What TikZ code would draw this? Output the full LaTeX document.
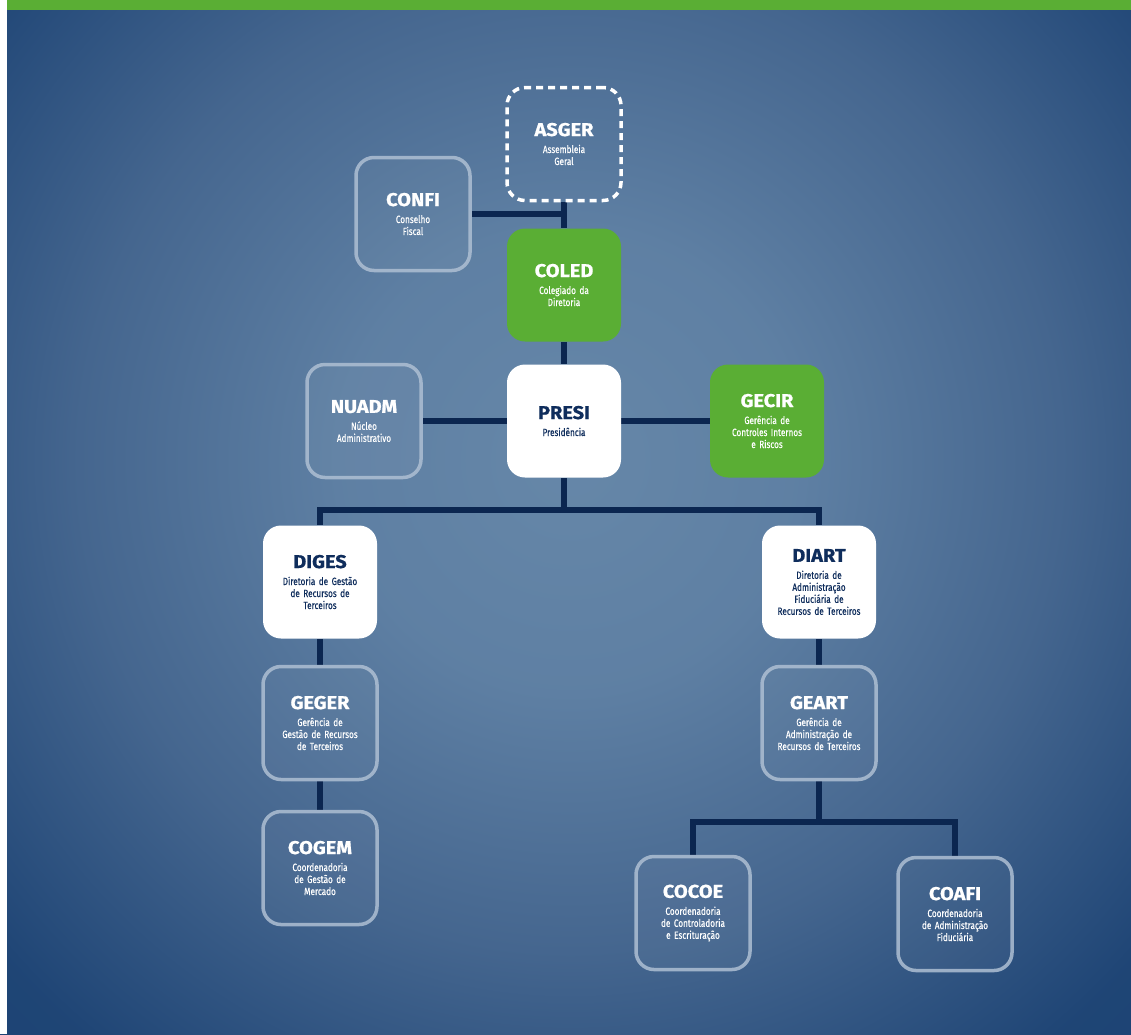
\documentclass[tikz,border=0pt]{standalone}
\usepackage{fontspec}
\setmainfont{Fira Sans}
\newfontfamily\ttlfont{Fira Sans}[FakeStretch=1.08,BoldFeatures={FakeBold=0.8}]
\newfontfamily\subfont{Fira Sans}[FakeStretch=0.78,FakeBold=0.4]
\definecolor{navy}{HTML}{0B2650}
\definecolor{navytext}{HTML}{0F2D5C}
\definecolor{orggreen}{HTML}{5AAE34}
\definecolor{lineblue}{HTML}{AEBFD3}
\pgfdeclareradialshading{bgshade}{\pgfpoint{0bp}{0bp}}{%
  rgb(0bp)=(0.40,0.53,0.66);
  rgb(7bp)=(0.37,0.50,0.64);
  rgb(15bp)=(0.27,0.40,0.56);
  rgb(23bp)=(0.12,0.27,0.46);
  rgb(34bp)=(0.10,0.25,0.45);
  rgb(50bp)=(0.10,0.25,0.45)}
\pgfdeclarelayer{back}
\pgfdeclarelayer{edges}
\pgfsetlayers{back,edges,main}
\newcommand\orgtext[2]{{\ttlfont\bfseries\fontsize{18.5}{21}\selectfont #1}\\[5pt]#2}
\tikzset{
  orgbox/.style={rounded corners=18pt, minimum width=114pt, minimum height=113pt,
    text width=112pt, align=center, inner sep=0pt,
    font=\subfont\fontsize{10.5}{12}\selectfont},
  outlinebox/.style={orgbox, draw=lineblue, line width=3.5pt, fill=white, fill opacity=0.04,
    text opacity=1, draw opacity=0.85, text=white},
  dashbox/.style={orgbox, draw=white, line width=3.5pt, dash pattern=on 7pt off 5pt, text=white},
  whitebox/.style={orgbox, fill=white, text=navytext},
  greenbox/.style={orgbox, fill=orggreen, text=white},
  conn/.style={draw=navy, line width=6.5pt, line join=miter}
}
\begin{document}
\begin{tikzpicture}[x=1pt,y=-1pt]
\useasboundingbox (0,0) rectangle (1131,1034);
\begin{pgfonlayer}{back}
  \begin{scope}
    \clip (0,0) rectangle (1131,1034);
    \shade[shading=bgshade] (570,460) circle (820pt);
  \end{scope}
  \fill[white] (0,0) rectangle (7,1034);
  \fill[orggreen] (7,0) rectangle (1131,10);
\end{pgfonlayer}

\node[dashbox]    (asger) at (564,144) {\orgtext{ASGER}{Assembleia\\Geral}};
\node[outlinebox] (confi) at (413,214) {\orgtext{CONFI}{Conselho\\Fiscal}};
\node[greenbox]   (coled) at (564,285) {\orgtext{COLED}{Colegiado da\\Diretoria}};
\node[outlinebox] (nuadm) at (364,421) {\orgtext{NUADM}{Núcleo\\Administrativo}};
\node[whitebox]   (presi) at (564,421) {\orgtext{PRESI}{Presidência}};
\node[greenbox]   (gecir) at (767,421) {\orgtext{GECIR}{Gerência de\\Controles Internos\\e Riscos}};
\node[whitebox]   (diges) at (320,582) {\orgtext{DIGES}{Diretoria de Gestão\\de Recursos de\\Terceiros}};
\node[whitebox]   (diart) at (819,582) {\orgtext{DIART}{Diretoria de\\Administração\\Fiduciária de\\Recursos de Terceiros}};
\node[outlinebox] (geger) at (320,723) {\orgtext{GEGER}{Gerência de\\Gestão de Recursos\\de Terceiros}};
\node[outlinebox] (geart) at (819,723) {\orgtext{GEART}{Gerência de\\Administração de\\Recursos de Terceiros}};
\node[outlinebox] (cogem) at (320,868) {\orgtext{COGEM}{Coordenadoria\\de Gestão de\\Mercado}};
\node[outlinebox] (cocoe) at (693,913) {\orgtext{COCOE}{Coordenadoria\\de Controladoria\\e Escrituração}};
\node[outlinebox] (coafi) at (955,914) {\orgtext{COAFI}{Coordenadoria\\de Administração\\Fiduciária}};

\coordinate (j1) at (564,510);
\coordinate (j2) at (819,822);

\begin{pgfonlayer}{edges}
  \draw[conn] (asger.south) -- (coled.north);
  \draw[conn] (confi.east) -- (confi.east -| asger.south);
  \draw[conn] (coled.south) -- (presi.north);
  \draw[conn] (nuadm.east) -- (presi.west);
  \draw[conn] (presi.east) -- (gecir.west);
  \draw[conn] (presi.south) -- (j1);
  \draw[conn] (diges.north) |- (j1) -| (diart.north);
  \draw[conn] (diges.south) -- (geger.north);
  \draw[conn] (geger.south) -- (cogem.north);
  \draw[conn] (diart.south) -- (geart.north);
  \draw[conn] (geart.south) -- (j2);
  \draw[conn] (cocoe.north) |- (j2) -| (coafi.north);
\end{pgfonlayer}
\end{tikzpicture}
\end{document}
